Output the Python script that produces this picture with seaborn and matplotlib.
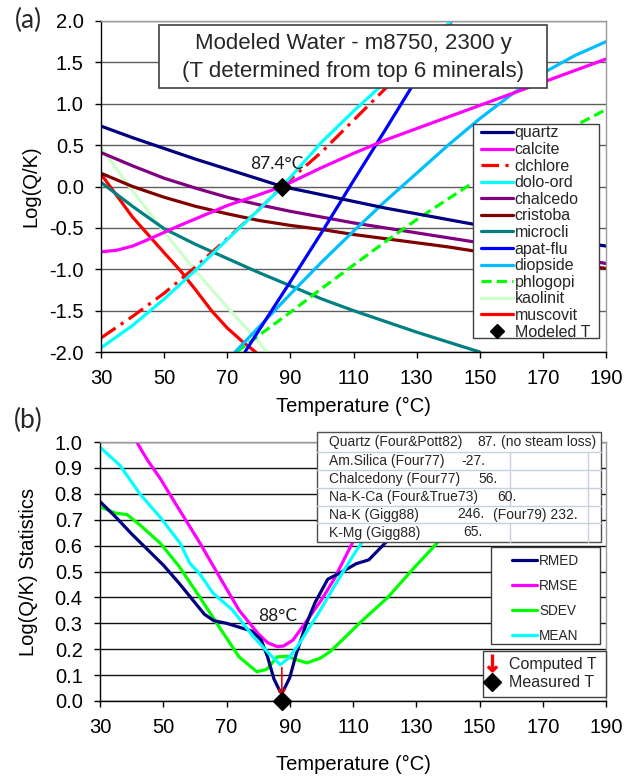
import numpy as np
import pandas as pd
import matplotlib
matplotlib.use("Agg")
import matplotlib.pyplot as plt
import matplotlib.ticker as mticker
import seaborn as sns
from matplotlib.patches import Rectangle
from matplotlib.lines import Line2D

# ---------------- data: panel (a) ----------------
T_quartz = [30, 40, 50, 60, 70, 80, 87.4, 100, 110, 120, 130, 140, 150, 160, 170, 180, 190]
quartz = [0.73, 0.59, 0.46, 0.33, 0.21, 0.09, 0.0, -0.10, -0.18, -0.26, -0.33, -0.40, -0.47, -0.54, -0.60, -0.66, -0.72]
T_calcite = [30, 35, 40, 45, 50, 55, 60, 70, 80, 87.4, 100, 110, 120, 130, 140, 150, 160, 170, 180, 190]
calcite = [-0.79, -0.77, -0.72, -0.64, -0.555, -0.47, -0.39, -0.23, -0.10, 0.0, 0.23, 0.40, 0.56, 0.70, 0.84, 0.98, 1.12, 1.26, 1.40, 1.54]
T_clchlore = [30, 40, 50, 60, 70, 80, 87.4, 100, 110, 120, 130, 141]
clchlore = [-1.83, -1.57, -1.29, -0.97, -0.63, -0.28, 0.0, 0.42, 0.80, 1.18, 1.57, 2.0]
T_dolo = [30, 40, 50, 60, 70, 80, 87.4, 100, 110, 120, 130, 141]
dolo_ord = [-1.95, -1.68, -1.36, -1.01, -0.64, -0.28, 0.0, 0.54, 0.91, 1.26, 1.62, 2.0]
T_std = [30, 40, 50, 60, 70, 80, 90, 100, 110, 120, 130, 140, 150, 160, 170, 180, 190]
chalcedo = [0.41, 0.25, 0.10, -0.02, -0.13, -0.22, -0.30, -0.37, -0.44, -0.50, -0.56, -0.62, -0.68, -0.74, -0.80, -0.87, -0.93]
cristoba = [0.16, 0.0, -0.13, -0.24, -0.33, -0.41, -0.47, -0.52, -0.58, -0.63, -0.68, -0.73, -0.79, -0.84, -0.89, -0.94, -0.99]
T_microcli = [30, 40, 50, 60, 70, 80, 90, 100, 110, 120, 130, 140, 150]
microcli = [0.05, -0.24, -0.51, -0.70, -0.87, -1.04, -1.20, -1.36, -1.50, -1.63, -1.76, -1.88, -2.0]
T_apat = [75.6, 80, 90, 100, 110, 120, 130, 141]
apat_flu = [-2.0, -1.74, -1.15, -0.55, 0.07, 0.68, 1.30, 2.0]
T_diopside = [72.5, 80, 90, 100, 110, 120, 130, 140, 150, 160, 170, 180, 190]
diopside = [-2.0, -1.70, -1.30, -0.91, -0.54, -0.18, 0.16, 0.50, 0.82, 1.11, 1.37, 1.58, 1.75]
T_phlogopi = [73, 80, 90, 100, 110, 120, 130, 140, 150, 160, 170, 180, 190]
phlogopi = [-2.0, -1.80, -1.52, -1.23, -0.95, -0.67, -0.40, -0.15, 0.10, 0.32, 0.53, 0.73, 0.93]
T_kaolinit = [30, 40, 50, 60, 70, 80, 82.5]
kaolinit = [0.47, -0.05, -0.55, -1.02, -1.46, -1.88, -2.0]
T_muscovit = [30, 40, 50, 55, 60, 65, 70, 75, 79]
muscovit = [0.15, -0.37, -0.80, -1.01, -1.25, -1.50, -1.71, -1.88, -2.0]
modeled_T = 87.4
modeled_logQK = 0.0

# ---------------- data: panel (b) ----------------
T_rmed = [30, 35, 40, 45, 50, 55, 60, 63, 66, 70, 74, 78, 81, 83, 85, 87, 88, 90, 92, 95, 98, 102, 106, 111, 115, 121, 126, 131]
rmed = [0.77, 0.71, 0.645, 0.585, 0.525, 0.455, 0.38, 0.335, 0.31, 0.30, 0.285, 0.27, 0.235, 0.17, 0.085, 0.035, 0.04, 0.09, 0.18, 0.29, 0.38, 0.47, 0.495, 0.53, 0.545, 0.62, 0.78, 0.95]
T_rmse = [41.6, 45, 49, 55, 61.6, 68, 74, 80, 83, 86, 88, 91, 96, 100, 104, 110, 116, 122, 126]
rmse = [1.0, 0.93, 0.86, 0.74, 0.61, 0.475, 0.35, 0.26, 0.225, 0.21, 0.212, 0.235, 0.32, 0.39, 0.47, 0.615, 0.76, 0.9, 1.0]
T_sdev = [30, 35, 38.5, 42.6, 49, 55, 61.6, 68, 74, 79.6, 82.7, 86, 89, 92, 95.4, 99.6, 102.7, 107, 112, 121, 129, 136.6, 145, 152, 158]
sdev = [0.75, 0.725, 0.72, 0.68, 0.61, 0.52, 0.40, 0.28, 0.17, 0.113, 0.122, 0.17, 0.173, 0.16, 0.147, 0.165, 0.19, 0.24, 0.30, 0.40, 0.51, 0.61, 0.72, 0.83, 0.92]
T_mean = [30, 36.3, 42.6, 49, 55.3, 58.5, 61.6, 65.7, 72, 78.4, 83.7, 87, 90, 93.2, 99.6, 105.9, 111, 113, 118, 124]
mean = [0.98, 0.91, 0.80, 0.71, 0.61, 0.53, 0.49, 0.417, 0.35, 0.25, 0.18, 0.14, 0.17, 0.225, 0.35, 0.48, 0.58, 0.615, 0.72, 0.85]
computed_T = 87.5
computed_T_top = 0.14
measured_T = 87.5

geo_names = ["Quartz (Four&Pott82)", "Am.Silica (Four77)", "Chalcedony (Four77)",
             "Na-K-Ca (Four&True73)", "Na-K (Gigg88)", "K-Mg (Gigg88)"]
geo_values = ["87.", "-27.", "56.", "60.", "246.", "65."]
geo_extra = ["(no steam loss)", "", "", "", "(Four79) 232.", ""]

x_ticks = [30, 50, 70, 90, 110, 130, 150, 170, 190]

# ---------------- style ----------------
sns.set_theme(style="white")
plt.rcParams['font.family'] = ['Liberation Sans', 'DejaVu Sans']

W, H = 624, 777
fig = plt.figure(figsize=(W / 100, H / 100), dpi=100)
fig.patch.set_facecolor("white")


def fx(px):
    return px / W


def fy(py):
    return 1 - py / H


ax1 = fig.add_axes([fx(101), fy(352), fx(606) - fx(101), fy(21) - fy(352)])
ax2 = fig.add_axes([fx(100), fy(701), fx(606) - fx(100), fy(442) - fy(701)])

LW = 2.3
top_series = [
    ("quartz", T_quartz, quartz, "#000080", "-"),
    ("calcite", T_calcite, calcite, "#FF00FF", "-"),
    ("clchlore", T_clchlore, clchlore, "#FF0000", (0, (5.5, 2, 1, 2))),
    ("dolo-ord", T_dolo, dolo_ord, "#00FFFF", "-"),
    ("chalcedo", T_std, chalcedo, "#800080", "-"),
    ("cristoba", T_std, cristoba, "#800000", "-"),
    ("microcli", T_microcli, microcli, "#008080", "-"),
    ("apat-flu", T_apat, apat_flu, "#0000FF", "-"),
    ("diopside", T_diopside, diopside, "#00BFFF", "-"),
    ("phlogopi", T_phlogopi, phlogopi, "#00FF00", (0, (3.2, 1.6))),
    ("kaolinit", T_kaolinit, kaolinit, "#CCFFCC", "-"),
    ("muscovit", T_muscovit, muscovit, "#FF0000", "-"),
]
draw_order = ["kaolinit", "muscovit", "microcli", "cristoba", "chalcedo", "phlogopi",
              "diopside", "apat-flu", "clchlore", "dolo-ord", "calcite", "quartz"]
sd = {s[0]: s for s in top_series}
for name in draw_order:
    _, tx, vy, col, ls = sd[name]
    sns.lineplot(x=tx, y=vy, ax=ax1, color=col, linewidth=LW, linestyle=ls,
                 sort=False, estimator=None, legend=False)
sns.scatterplot(x=[modeled_T], y=[modeled_logQK], ax=ax1, marker="D", s=85,
                color="black", edgecolor="black", zorder=6, legend=False)
ax1.text(85.7, 0.27, "87.4°C", ha="center", va="center", fontsize=12.5,
         family=["Lato", "DejaVu Sans"], color="#1a1a1a")

bot_series = [
    ("RMED", T_rmed, rmed, "#000080"),
    ("RMSE", T_rmse, rmse, "#FF00FF"),
    ("SDEV", T_sdev, sdev, "#00FF00"),
    ("MEAN", T_mean, mean, "#00FFFF"),
]
for name in ["SDEV", "RMSE", "RMED", "MEAN"]:
    s = [b for b in bot_series if b[0] == name][0]
    sns.lineplot(x=s[1], y=s[2], ax=ax2, color=s[3], linewidth=LW, sort=False,
                 estimator=None, legend=False)
ax2.annotate("", xy=(computed_T, 0.004), xytext=(computed_T, computed_T_top),
             arrowprops=dict(arrowstyle="->", color="red", lw=1.2, mutation_scale=11),
             zorder=7)
ax2.plot([measured_T], [0.0], marker="D", ms=9, color="black", clip_on=False, zorder=8)
ax2.text(86.3, 0.33, "88°C", ha="center", va="center", fontsize=12.5,
         family=["Lato", "DejaVu Sans"], color="#1a1a1a")

fmt = mticker.FuncFormatter(lambda v, p: f"{v:.1f}")
for ax, ylim, yticks, gridc in [(ax1, (-2, 2), np.arange(-2, 2.01, 0.5), "#5E5E5E"),
                                (ax2, (0, 1), np.arange(0, 1.01, 0.1), "#111111")]:
    ax.set_xlim(30, 190)
    ax.set_ylim(*ylim)
    ax.set_xticks(x_ticks)
    ax.set_yticks(yticks)
    ax.yaxis.set_major_formatter(fmt)
    ax.tick_params(axis="both", which="major", direction="out", length=4.5, width=1,
                   pad=8, labelsize=14.5, colors="black", bottom=True, left=True)
    ax.yaxis.grid(True, color=gridc, linewidth=1)
    ax.xaxis.grid(False)
    ax.set_axisbelow(True)
    ax.set_facecolor("white")
    for sp in ["left", "bottom"]:
        ax.spines[sp].set_color("black")
        ax.spines[sp].set_linewidth(1)
    for sp in ["top", "right"]:
        ax.spines[sp].set_color("#9A9A9A")
        ax.spines[sp].set_linewidth(1)
    ax.set_xlabel("Temperature (°C)", fontsize=14.5, color="black")

ax1.set_ylabel("Log(Q/K)", fontsize=14.5, color="black")
ax2.set_ylabel("Log(Q/K) Statistics", fontsize=14.5, color="black")
ax1.xaxis.set_label_coords(0.5, (352 - 397) / 331)
ax2.xaxis.set_label_coords(0.5, (701 - 755) / 259)
ax1.yaxis.set_label_coords((40 - 101) / 505, 0.5)
ax2.yaxis.set_label_coords((38 - 100) / 506, 0.5)

fig.text(fx(28.5), fy(20.5), "(a)", fontsize=19, ha="center", va="center",
         family=["Lato", "DejaVu Sans"])
fig.text(fx(28.5), fy(420), "(b)", fontsize=19, ha="center", va="center",
         family=["Lato", "DejaVu Sans"])


def frame(x0, y0, x1, y1, z=2, ec="#404040", lw=1.0):
    r = Rectangle((fx(x0), fy(y1)), fx(x1) - fx(x0), fy(y0) - fy(y1),
                  transform=fig.transFigure, facecolor="white", edgecolor=ec,
                  linewidth=lw, zorder=z)
    fig.add_artist(r)


def hline(x0, x1, y, col, z=3):
    fig.add_artist(Line2D([fx(x0), fx(x1)], [fy(y), fy(y)], transform=fig.transFigure,
                          color=col, lw=1, zorder=z))


def vline(x, y0, y1, col, z=3):
    fig.add_artist(Line2D([fx(x), fx(x)], [fy(y0), fy(y1)], transform=fig.transFigure,
                          color=col, lw=1, zorder=z))


# title box
frame(159, 25, 547, 88, lw=1.2)
fig.text(fx(353), fy(44), "Modeled Water - m8750, 2300 y", fontsize=16, ha="center",
         va="center", zorder=4)
fig.text(fx(353), fy(71), "(T determined from top 6 minerals)", fontsize=16,
         ha="center", va="center", zorder=4)

# legend (a)
frame(473, 124, 599, 338)
handles_a = [Line2D([], [], color=s[3], lw=LW, linestyle=s[4]) for s in top_series]
handles_a.append(Line2D([], [], color="black", marker="D", ms=7, ls="none"))
labels_a = [s[0] for s in top_series] + ["Modeled T"]
leg_a = fig.legend(handles_a, labels_a, loc="upper left",
                   bbox_to_anchor=(fx(481), fy(125.5)), frameon=False, fontsize=11.5,
                   borderpad=0, borderaxespad=0, handlelength=2.0, handletextpad=0.12,
                   labelspacing=0.1)
leg_a.set_zorder(4)

# table
frame(317, 432, 601, 542, ec="#505050")
row_lines = [452, 470, 488, 506, 523]
for yy in row_lines:
    hline(317, 601, yy, "#C5D0E3")
for i in range(5):
    y0 = row_lines[i]
    y1 = row_lines[i + 1] if i + 1 < len(row_lines) else 542
    if i != 3:
        vline(510, y0, y1, "#C5D0E3")
    vline(588, y0, y1, "#C5D0E3")
row_y = [442, 461, 479, 497, 514.5, 532.5]
val_x = [477, 461, 478, 497, 457, 463]
extra_x = [501, 0, 0, 0, 493, 0]
for i in range(6):
    fig.text(fx(329), fy(row_y[i]), geo_names[i], fontsize=10, va="center", zorder=5)
    fig.text(fx(val_x[i]), fy(row_y[i]), geo_values[i], fontsize=10, va="center", zorder=5)
    if geo_extra[i]:
        fig.text(fx(extra_x[i]), fy(row_y[i]), geo_extra[i], fontsize=10, va="center",
                 zorder=5)

# legend (b) statistics
frame(491, 547, 600, 644)
handles_b = [Line2D([], [], color=s[3], lw=LW) for s in bot_series]
leg_b = fig.legend(handles_b, [s[0] for s in bot_series], loc="upper left",
                   bbox_to_anchor=(fx(512), fy(553.6)), frameon=False, fontsize=9.8,
                   borderpad=0, borderaxespad=0, handlelength=1.84, handletextpad=0.15,
                   labelspacing=0.82)
leg_b.set_zorder(4)

# legend (b) markers
frame(483, 651, 606, 697)
handles_c = [Line2D([], [], color="red", marker=r"$\downarrow$", ms=12, ls="none"),
             Line2D([], [], color="black", marker="D", ms=9, ls="none")]
leg_c = fig.legend(handles_c, ["Computed T", "Measured T"], loc="upper left",
                   bbox_to_anchor=(fx(485), fy(656.5)), frameon=False, fontsize=11.5,
                   borderpad=0, borderaxespad=0, handlelength=0.875, handletextpad=0.62,
                   labelspacing=0.25)
leg_c.set_zorder(4)

fig.savefig("out.png", dpi=100, facecolor="white")
